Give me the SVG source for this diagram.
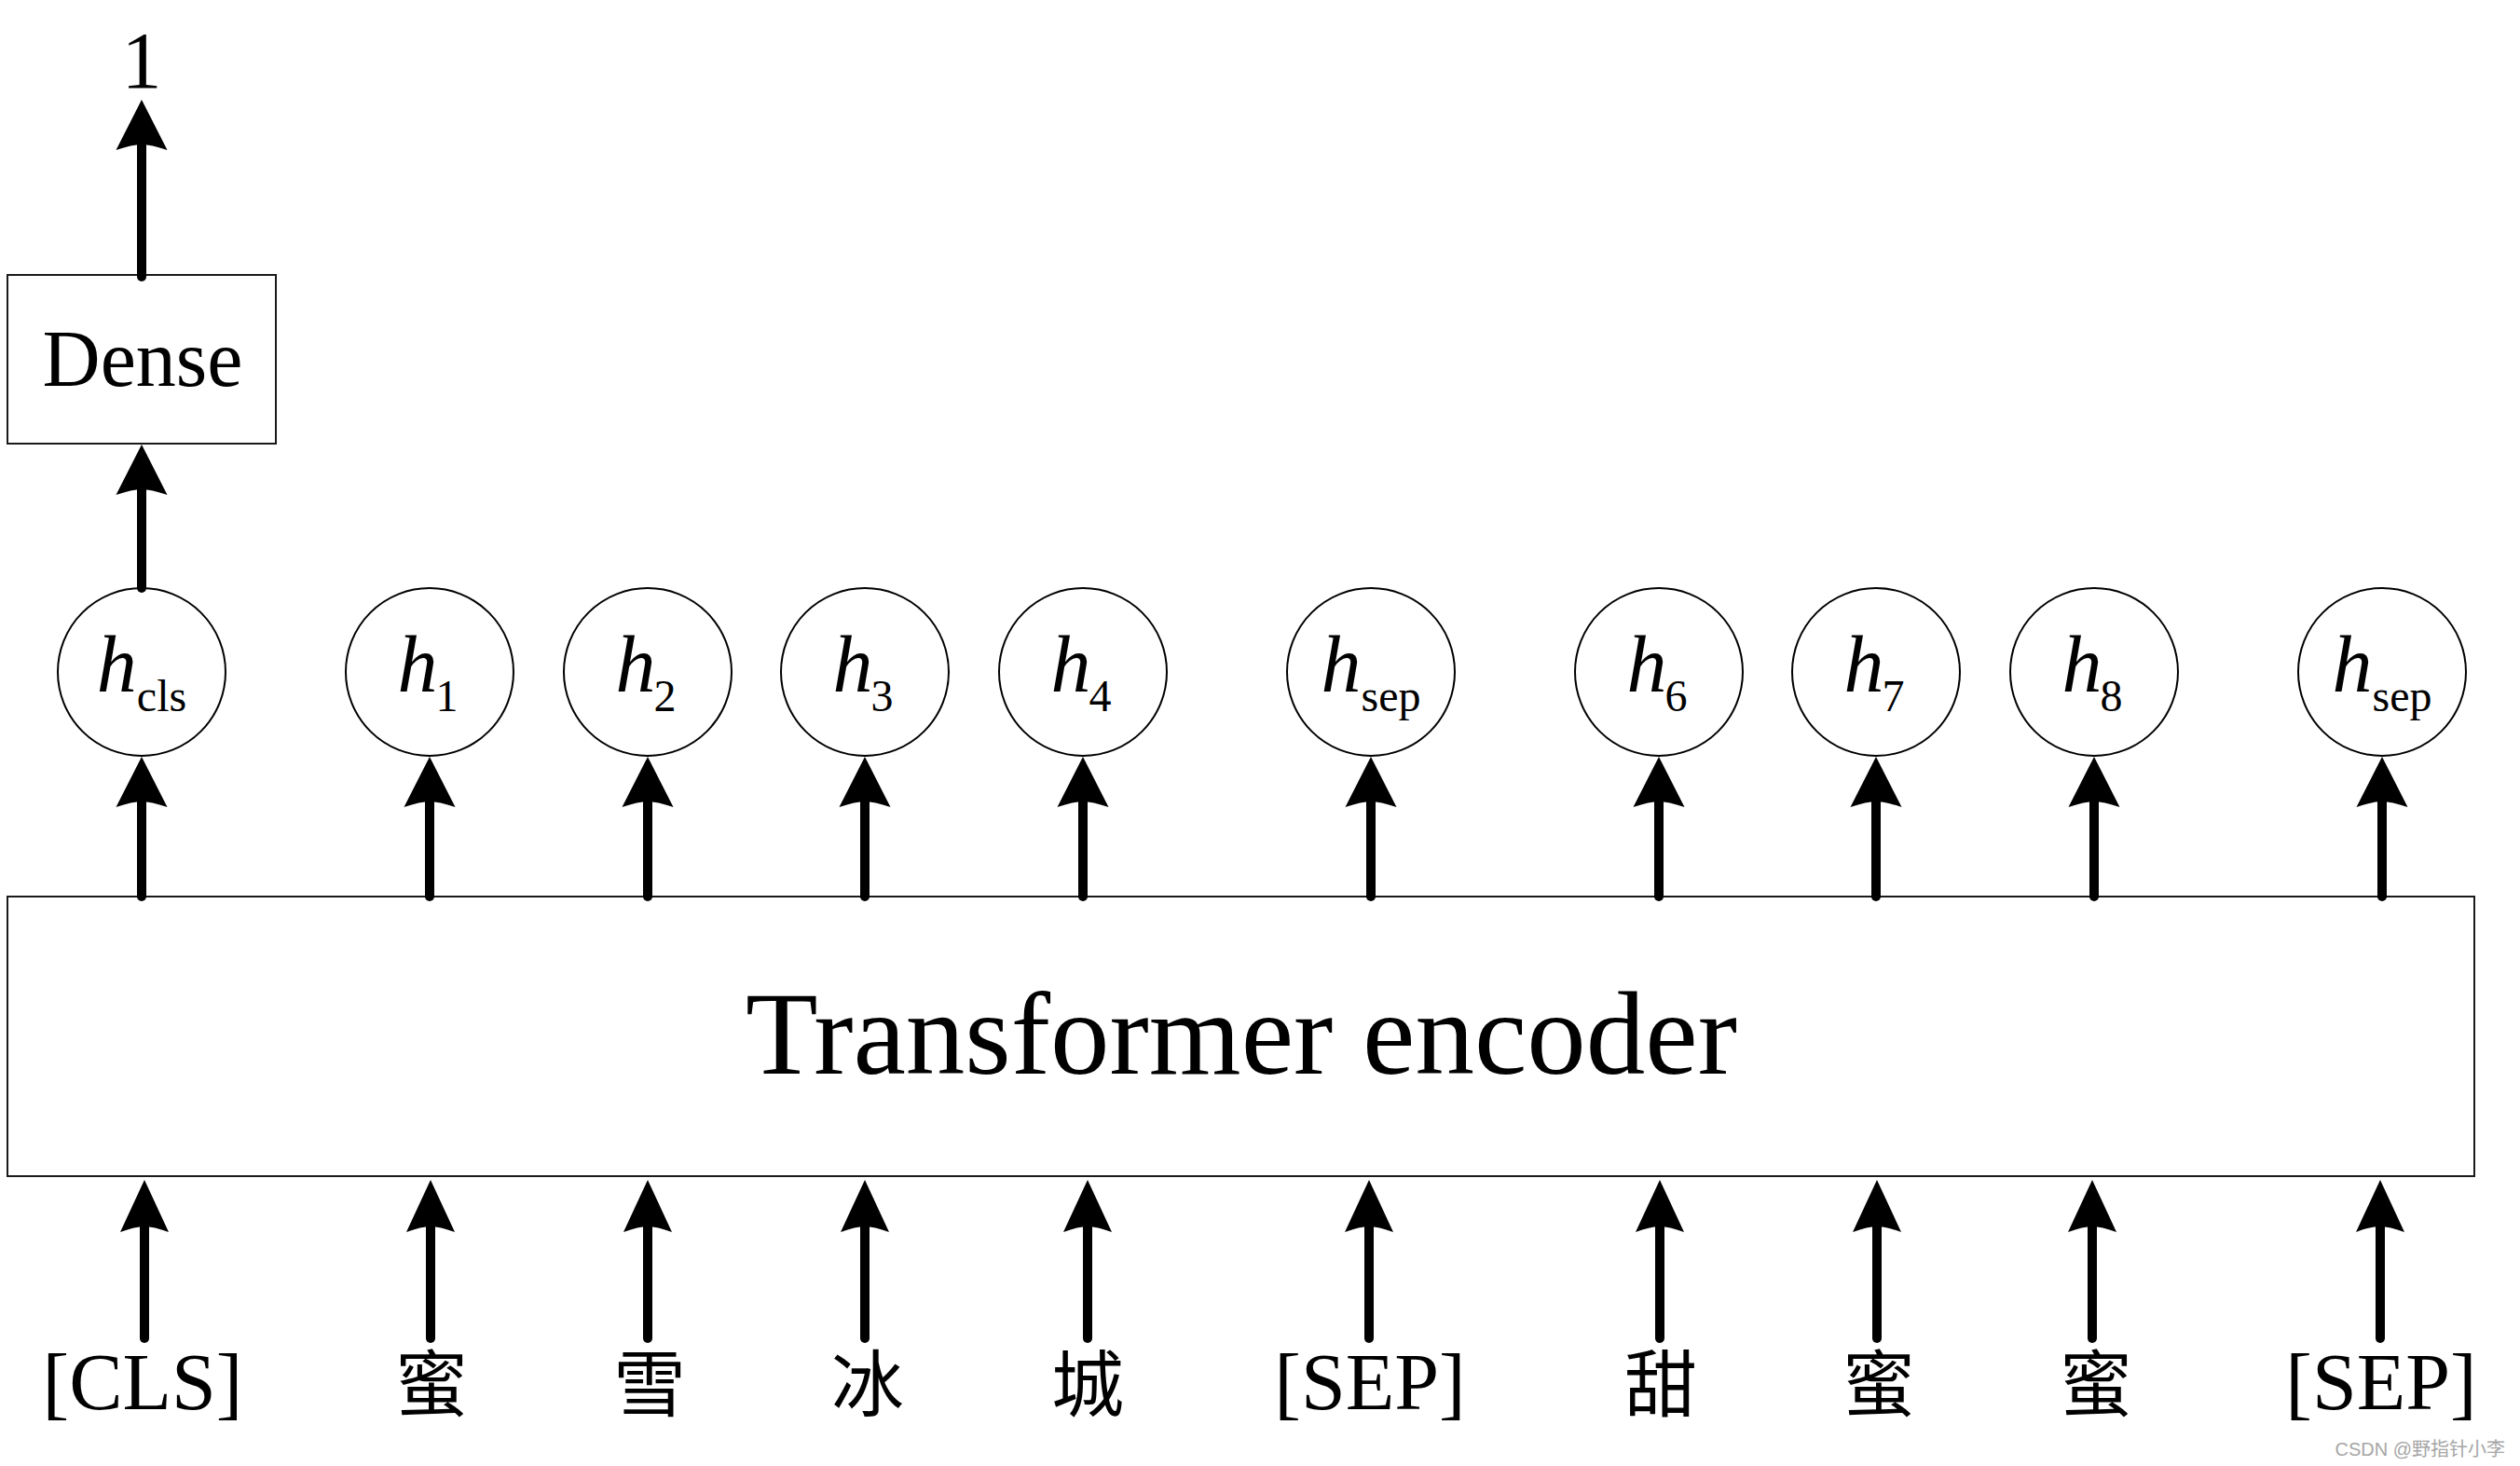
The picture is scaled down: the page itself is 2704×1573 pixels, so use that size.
<svg xmlns="http://www.w3.org/2000/svg" width="2704" height="1573" viewBox="0 0 2704 1573">
<style>
.box{fill:#fff;stroke:#1a1a1a;stroke-width:2}
.node{fill:#fff;stroke:#000;stroke-width:2}
.t{font-family:"Liberation Serif","Times New Roman",serif;fill:#000}
.cjk{font-family:"Liberation Serif","Noto Sans CJK SC",serif;font-size:78px;fill:#000;text-anchor:middle}
.lab{font-size:86px;text-anchor:middle}
.hv{font-size:86px;text-anchor:middle}
.it{font-style:italic}
.sub{font-size:48px}
.arr{stroke:#000;stroke-width:10;stroke-linecap:round;fill:none;marker-end:url(#ah)}
.arr2{stroke:#000;stroke-width:10;stroke-linecap:round;fill:none;marker-end:url(#ah2)}
.wm{font-family:"Liberation Sans","Noto Sans CJK SC",sans-serif;font-size:20px;fill:#a6a6a6;text-anchor:end}
</style>
<defs>
<marker id="ah" markerUnits="userSpaceOnUse" viewBox="-10 -32 70 64" markerWidth="70" markerHeight="64" refX="0" refY="0" orient="auto">
<path d="M48,0 L-6,27.5 Q0,10 0,0 Q0,-10 -6,-27.5 Z" fill="#000"/>
</marker>
<marker id="ah2" markerUnits="userSpaceOnUse" viewBox="-10 -32 70 64" markerWidth="70" markerHeight="64" refX="0" refY="0" orient="auto">
<path d="M50,0 L-6,26 Q0,10 0,0 Q0,-10 -6,-26 Z" fill="#000"/>
</marker>
</defs>

<g id="output-1">
<text class="t lab" x="152" y="94">1</text>
</g>

<g id="dense">
<rect class="box" x="8" y="295" width="288" height="181"/>
<text class="t lab" x="153" y="414">Dense</text>
</g>

<g id="encoder">
<rect class="box" x="8" y="962" width="2647" height="300"/>
<text class="t" x="1332" y="1152" font-size="127" text-anchor="middle">Transformer encoder</text>
</g>

<g id="h-cls"><circle class="node" cx="152" cy="721" r="90"/><text class="t hv" x="152" y="742"><tspan class="it">h</tspan><tspan class="sub" dy="21">cls</tspan></text></g>
<g id="h-1"><circle class="node" cx="461" cy="721" r="90"/><text class="t hv" x="459" y="742"><tspan class="it">h</tspan><tspan class="sub" dy="21" dx="-2">1</tspan></text></g>
<g id="h-2"><circle class="node" cx="695" cy="721" r="90"/><text class="t hv" x="693" y="742"><tspan class="it">h</tspan><tspan class="sub" dy="21" dx="-2">2</tspan></text></g>
<g id="h-3"><circle class="node" cx="928" cy="721" r="90"/><text class="t hv" x="926" y="742"><tspan class="it">h</tspan><tspan class="sub" dy="21" dx="-2">3</tspan></text></g>
<g id="h-4"><circle class="node" cx="1162" cy="721" r="90"/><text class="t hv" x="1160" y="742"><tspan class="it">h</tspan><tspan class="sub" dy="21" dx="-2">4</tspan></text></g>
<g id="h-sep-1"><circle class="node" cx="1471" cy="721" r="90"/><text class="t hv" x="1471" y="742"><tspan class="it">h</tspan><tspan class="sub" dy="21">sep</tspan></text></g>
<g id="h-6"><circle class="node" cx="1780" cy="721" r="90"/><text class="t hv" x="1778" y="742"><tspan class="it">h</tspan><tspan class="sub" dy="21" dx="-2">6</tspan></text></g>
<g id="h-7"><circle class="node" cx="2013" cy="721" r="90"/><text class="t hv" x="2011" y="742"><tspan class="it">h</tspan><tspan class="sub" dy="21" dx="-2">7</tspan></text></g>
<g id="h-8"><circle class="node" cx="2247" cy="721" r="90"/><text class="t hv" x="2245" y="742"><tspan class="it">h</tspan><tspan class="sub" dy="21" dx="-2">8</tspan></text></g>
<g id="h-sep-2"><circle class="node" cx="2556" cy="721" r="90"/><text class="t hv" x="2556" y="742"><tspan class="it">h</tspan><tspan class="sub" dy="21">sep</tspan></text></g>

<g id="tok-cls"><text class="t lab" x="153" y="1512">[CLS]</text></g>
<g id="tok-mi1"><text class="cjk" x="463" y="1514">蜜</text></g>
<g id="tok-xue"><text class="cjk" x="697" y="1514">雪</text></g>
<g id="tok-bing"><text class="cjk" x="931" y="1514">冰</text></g>
<g id="tok-cheng"><text class="cjk" x="1167" y="1514">城</text></g>
<g id="tok-sep1"><text class="t lab" x="1470" y="1512">[SEP]</text></g>
<g id="tok-tian"><text class="cjk" x="1782" y="1514">甜</text></g>
<g id="tok-mi2"><text class="cjk" x="2016" y="1514">蜜</text></g>
<g id="tok-mi3"><text class="cjk" x="2249" y="1514">蜜</text></g>
<g id="tok-sep2"><text class="t lab" x="2555" y="1512">[SEP]</text></g>

<g id="connectors">
<line class="arr" x1="152" y1="297" x2="152" y2="155"/>
<line class="arr" x1="152" y1="631" x2="152" y2="525"/>
<line class="arr" x1="152" y1="962" x2="152" y2="860"/>
<line class="arr" x1="461" y1="962" x2="461" y2="860"/>
<line class="arr" x1="695" y1="962" x2="695" y2="860"/>
<line class="arr" x1="928" y1="962" x2="928" y2="860"/>
<line class="arr" x1="1162" y1="962" x2="1162" y2="860"/>
<line class="arr" x1="1471" y1="962" x2="1471" y2="860"/>
<line class="arr" x1="1780" y1="962" x2="1780" y2="860"/>
<line class="arr" x1="2013" y1="962" x2="2013" y2="860"/>
<line class="arr" x1="2247" y1="962" x2="2247" y2="860"/>
<line class="arr" x1="2556" y1="962" x2="2556" y2="860"/>
<line class="arr2" x1="155" y1="1436" x2="155" y2="1316"/>
<line class="arr2" x1="462" y1="1436" x2="462" y2="1316"/>
<line class="arr2" x1="695" y1="1436" x2="695" y2="1316"/>
<line class="arr2" x1="928" y1="1436" x2="928" y2="1316"/>
<line class="arr2" x1="1167" y1="1436" x2="1167" y2="1316"/>
<line class="arr2" x1="1469" y1="1436" x2="1469" y2="1316"/>
<line class="arr2" x1="1781" y1="1436" x2="1781" y2="1316"/>
<line class="arr2" x1="2014" y1="1436" x2="2014" y2="1316"/>
<line class="arr2" x1="2245" y1="1436" x2="2245" y2="1316"/>
<line class="arr2" x1="2554" y1="1436" x2="2554" y2="1316"/>
</g>

<text class="wm" x="2688" y="1562">CSDN @野指针小李</text>
</svg>
